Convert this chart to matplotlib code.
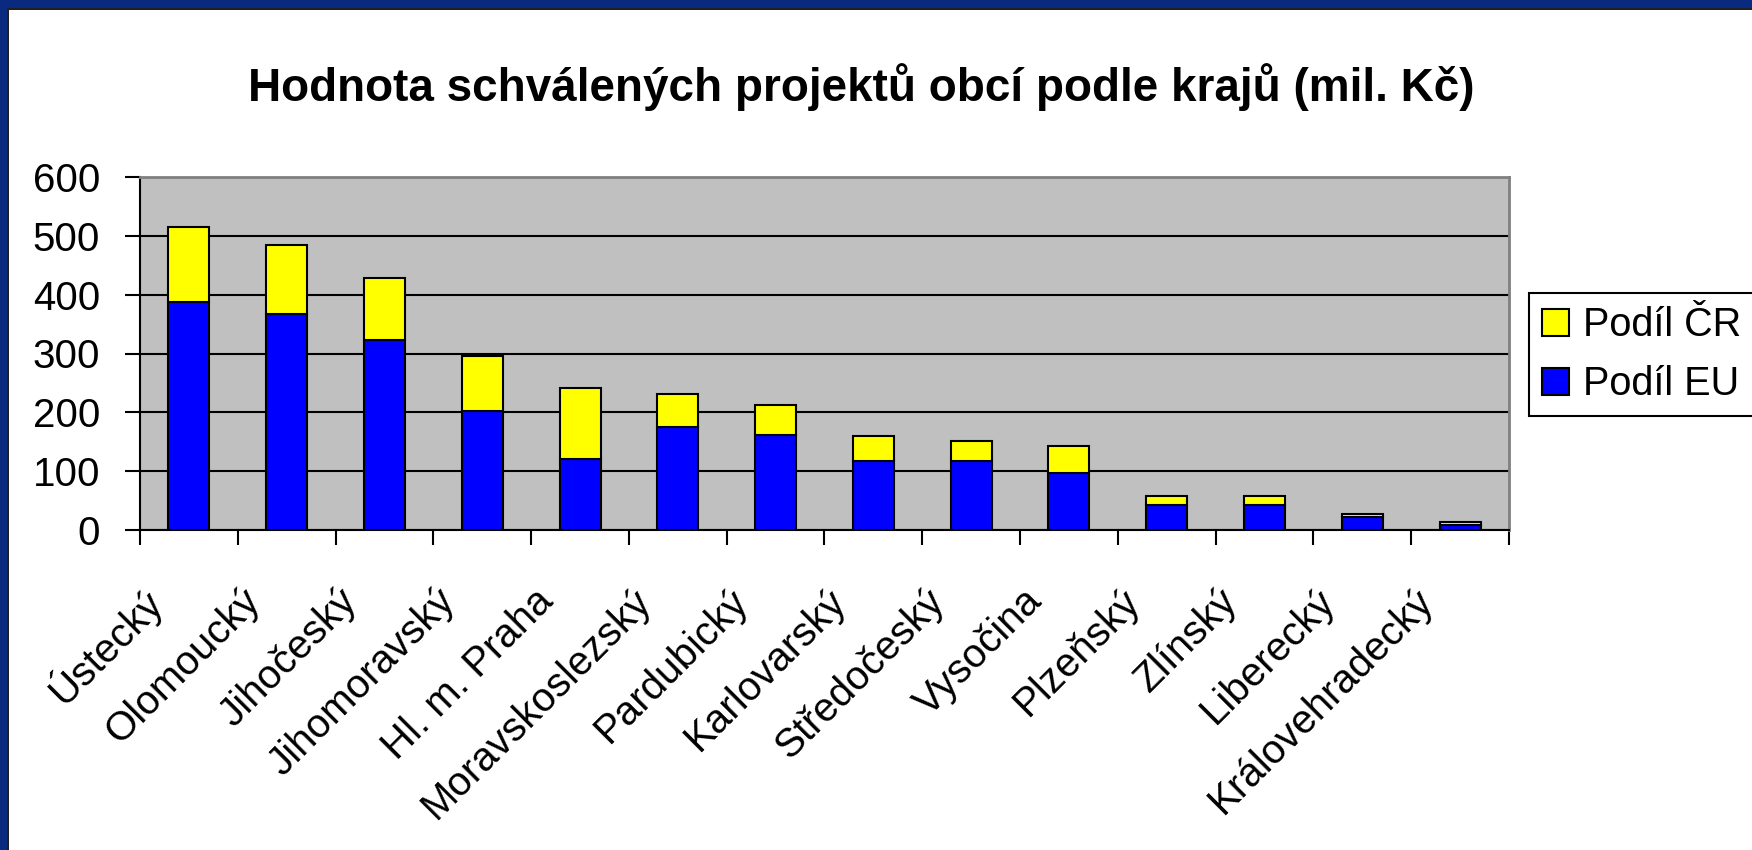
import matplotlib
matplotlib.use('Agg')
import matplotlib.pyplot as plt
from matplotlib.patches import Rectangle
from matplotlib.transforms import ScaledTranslation
import numpy as np

plt.rcParams['font.family'] = ['Liberation Sans', 'DejaVu Sans']

# data (mil. Kč)
kraje = ['Ústecký', 'Olomoucký', 'Jihočeský', 'Jihomoravský', 'Hl. m. Praha',
         'Moravskoslezský', 'Pardubický', 'Karlovarský', 'Středočeský', 'Vysočina',
         'Plzeňský', 'Zlínský', 'Liberecký', 'Královehradecký']
podil_eu = [387, 367, 323, 202, 121, 175, 162, 117, 117, 97, 43, 42, 22, 8]
celkem = [515, 485, 428, 296, 242, 232, 212, 159, 152, 142, 57, 57, 27, 13]
podil_cr = [c - e for c, e in zip(celkem, podil_eu)]

W, H = 1752, 850
fig = plt.figure(figsize=(W / 100, H / 100), dpi=100, facecolor='white')

# modry ramecek nahore a vlevo
fig.patches.append(Rectangle((0, 0), 7 / W, 1, transform=fig.transFigure,
                             facecolor='#0a2a80', edgecolor='none', zorder=0))
fig.patches.append(Rectangle((0, 1 - 8 / H), 1, 8 / H, transform=fig.transFigure,
                             facecolor='#0a2a80', edgecolor='none', zorder=0))
fig.patches.append(Rectangle((7 / W, 0), 2 / W, 1 - 8 / H, transform=fig.transFigure,
                             facecolor='#202020', edgecolor='none', zorder=0))
fig.patches.append(Rectangle((7 / W, 1 - 10 / H), 1, 2 / H, transform=fig.transFigure,
                             facecolor='#202020', edgecolor='none', zorder=0))

ax = fig.add_axes([140 / W, 1 - 530 / H, (1509 - 140) / W, (530 - 177) / H])
ax.set_facecolor('#c0c0c0')

x = np.arange(len(kraje))
sirka = 0.42
b_eu = ax.bar(x, podil_eu, sirka, color='#0000ff', edgecolor='black', linewidth=1.5,
              label='Podíl EU', zorder=3)
b_cr = ax.bar(x, podil_cr, sirka, bottom=podil_eu, color='#ffff00', edgecolor='black',
              linewidth=1.5, label='Podíl ČR', zorder=3)

ax.set_xlim(-0.5, len(kraje) - 0.5)
ax.set_ylim(0, 600)
ax.set_yticks(np.arange(0, 601, 100))
ax.yaxis.grid(True, color='black', linewidth=1.5, zorder=1)
ax.set_axisbelow(True)

for s in ['top', 'right']:
    ax.spines[s].set_color('#808080')
    ax.spines[s].set_linewidth(2)
for s in ['left', 'bottom']:
    ax.spines[s].set_color('black')
    ax.spines[s].set_linewidth(1.5)

ax.tick_params(axis='y', length=10.8, width=1.5, labelsize=29, pad=18)
ax.set_xticks(np.arange(-0.5, len(kraje), 1.0), minor=True)
ax.tick_params(axis='x', which='minor', length=10.8, width=1.5, direction='out')
ax.set_xticks(x)
ax.set_xticklabels(kraje, rotation=45, ha='right', va='center',
                   rotation_mode='anchor', fontsize=29)
ax.tick_params(axis='x', which='major', length=0, pad=47)
posun = ScaledTranslation(-0.33, 0, fig.dpi_scale_trans)
for lbl in ax.get_xticklabels():
    lbl.set_transform(lbl.get_transform() + posun)

fig.text(861 / W, 1 - 87 / H, 'Hodnota schválených projektů obcí podle krajů (mil. Kč)',
         ha='center', va='center', fontsize=33, fontweight='bold')

leg = fig.legend([b_cr, b_eu], ['Podíl ČR', 'Podíl EU'], loc='upper left',
                 bbox_to_anchor=(1529 / W, 1 - 293 / H), bbox_transform=fig.transFigure,
                 fontsize=28.5, frameon=True, fancybox=False, shadow=False,
                 borderaxespad=0, handlelength=0.68, handleheight=0.68,
                 handletextpad=0.35, labelspacing=0.53, borderpad=0.33)
leg.get_frame().set_edgecolor('black')
leg.get_frame().set_linewidth(1.5)
leg.get_frame().set_alpha(1)

plt.savefig('out.png', dpi=100, facecolor='white')
